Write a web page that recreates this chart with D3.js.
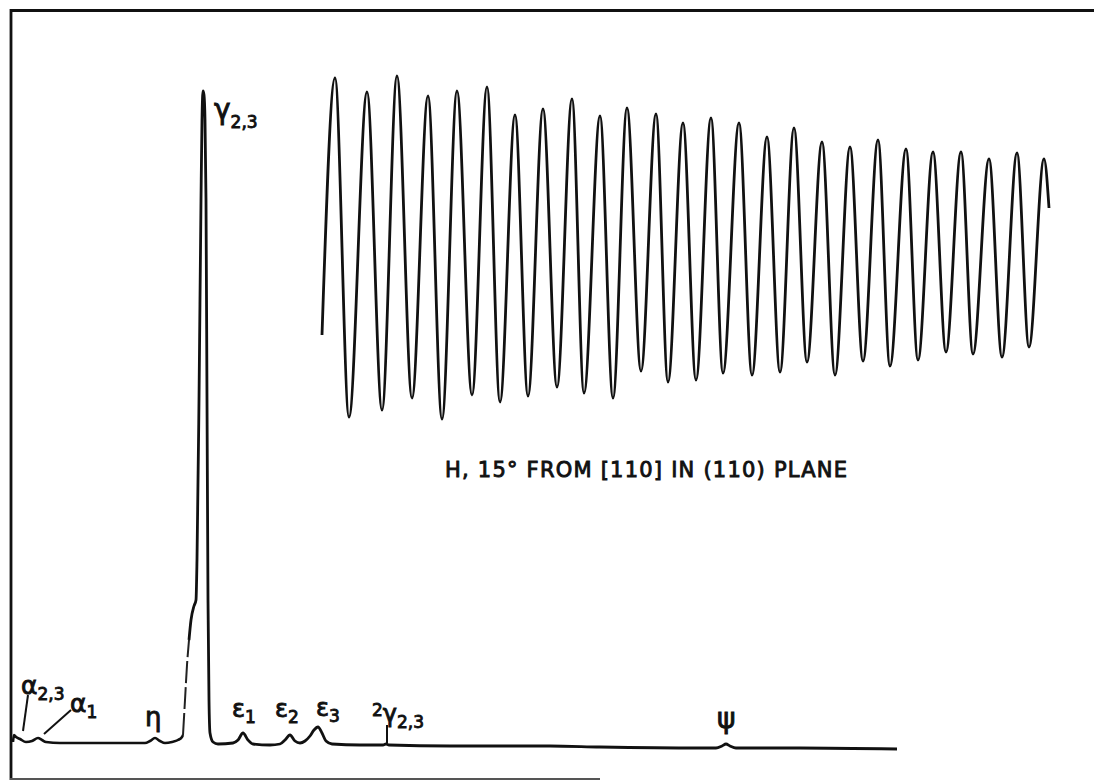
<!DOCTYPE html>
<html>
<head>
<meta charset="utf-8">
<script src="https://cdn.jsdelivr.net/npm/d3@7"></script>
<style>
  html, body { margin: 0; padding: 0; background: #fff; }
  svg { display: block; }
</style>
</head>
<body>
<svg id="chart" width="1094" height="782"></svg>
<script>
// ---- DATA (chart-paper units, mm; x = sweep position, y = recorder deflection) ----
// Main spectrum trace (solid part before the big line)
const spectrumLeft = [
  [0.5, 0], [0.75, 1.75], [1.25, 1.25], [2.25, 0.75], [3.75, 0], [5.25, 0.25],
  [6.75, 1.0], [7.75, 0.5], [8.75, 0], [12.25, -0.25], [22.25, -0.25], [33.5, -0.25],
  [34.75, 0.25], [36.0, 1.0], [37.25, 0.25], [38.5, -0.25], [40.25, 0], [41.75, 0.5],
  [42.75, 1.25], [43.0, 1.75]
];
// Dashed (faint) rising edge of the γ2,3 line
const spectrumDashed = [
  [43.0, 1.75], [43.5, 10.5], [44.0, 19.25], [44.5, 25.5]
];
// γ2,3 line and the rest of the spectrum
const spectrumRight = [
  [44.5, 25.5], [45.0, 30.5], [45.75, 34.0], [46.25, 35.5], [46.5, 45.5], [47.0, 85.5],
  [47.5, 135.5], [47.75, 155.5], [48.0, 162.75], [48.25, 161.75], [48.5, 155.5],
  [48.75, 135.5], [49.0, 85.5], [49.25, 35.5], [49.5, 10.5], [49.75, 2.25], [50.5, 0],
  [51.75, -0.5], [55.5, -0.25], [56.75, 0.5], [58.0, 2.25], [59.25, 0.5], [60.5, -0.5],
  [64.75, -0.75], [67.25, -0.5], [68.5, 0.5], [69.75, 1.75], [71.0, 0.25], [72.25, -0.25],
  [73.5, 0.25], [74.75, 1.5], [75.75, 3.0], [76.75, 3.75], [77.75, 2.25], [78.75, 0.25],
  [80.25, -0.5], [87.25, -0.75], [93.0, -0.75], [93.75, -0.5], [94.5, -0.75],
  [109.75, -1.0], [134.75, -1.0], [147.25, -1.25], [172.25, -1.5], [176.25, -1.5],
  [177.75, -1.0], [178.75, -0.5], [179.75, -1.0], [181.25, -1.5], [197.25, -1.5],
  [221.5, -1.75]
];
// Oscillation trace: start, alternating maxima/minima, end
const oscX = [77.75, 81, 84.5, 89, 92.75, 96.5, 100.25, 104.25, 107.75, 111.5, 115.25,
  119, 122.25, 126, 129.25, 133, 136.5, 140.25, 143.25, 147.25, 150.5, 154, 157.5,
  161.25, 164.25, 168, 171.25, 175, 178, 182, 185.25, 189, 192.25, 195.75, 199,
  202.75, 206, 209.75, 213, 216.75, 219.75, 223.75, 226.75, 230.5, 233.75, 237.5,
  240.5, 244.5, 247.75, 251.5, 254.5, 258.25, 259.5];
const oscY = [101.75, 166, 81.25, 162.5, 83, 166.5, 86, 161.5, 80.75, 162.75, 86.75,
  163.75, 85, 156.75, 86.5, 158.25, 88.75, 160.75, 87.25, 156.5, 86, 158.5, 92.75,
  157, 90, 154.75, 90.5, 156, 92.25, 154.75, 91.75, 151.25, 92.5, 153.5, 95,
  150, 91.75, 148.75, 95.25, 150.5, 94, 148.25, 95.5, 147.5, 97.5, 147.5,
  97, 145.75, 96.25, 147.25, 98.75, 145.75, 133.5];

// Peak labels
const labelPrefix = ["", "", "", "", "", "", "", "2", ""];
const labelMain   = ["α", "α", "η", "γ", "ε", "ε", "ε", "γ", "ψ"];
const labelSub    = ["2,3", "1", "", "2,3", "1", "2", "3", "2,3", ""];
const labelX      = [2.5, 14.75, 33.5, 50.75, 55.25, 66.0, 76.25, 90.25, 176.5];
const labelY      = [12.0, 7.5, 4.0, 155.75, 6.25, 6.25, 6.5, 6.5, 3.5];
const labelSize   = [25, 25, 26, 28, 24, 24, 24, 24, 28];
// Leader lines: [x1, y1, x2, y2]
const leaders = [
  [4.25, 11.75, 3.0, 2.75],
  [15.0, 8.0, 8.25, 2.0],
  [94.0, 4.25, 94.0, -0.25]
];
const caption = "H, 15° FROM [110] IN (110) PLANE";
const captionPos = [108.5, 66.25];

// ---- DRAWING ----
const svg = d3.select("#chart");
const x = d3.scaleLinear().domain([0, 270]).range([11, 1091]);
const y = d3.scaleLinear().domain([0, 185.5]).range([742, 0]);

// frame
const frame = svg.append("g").attr("fill", "none").attr("stroke", "#111");
frame.append("line").attr("x1", 11).attr("y1", 9).attr("x2", 11).attr("y2", 780).attr("stroke-width", 2.8);
frame.append("line").attr("x1", 10).attr("y1", 10.5).attr("x2", 1094).attr("y2", 10.5).attr("stroke-width", 2.8);
frame.append("line").attr("x1", 10).attr("y1", 779).attr("x2", 600).attr("y2", 779).attr("stroke-width", 2).attr("stroke", "#555");

const line = d3.line().x(d => x(d[0])).y(d => y(d[1])).curve(d3.curveMonotoneX);

svg.append("path").datum(spectrumLeft).attr("d", line)
  .attr("fill", "none").attr("stroke", "#111").attr("stroke-width", 2.6).attr("stroke-linejoin", "round");
svg.append("path").datum(spectrumDashed).attr("d", line)
  .attr("fill", "none").attr("stroke", "#222").attr("stroke-width", 2).attr("stroke-dasharray", "22,4");
svg.append("path").datum(spectrumRight).attr("d", line)
  .attr("fill", "none").attr("stroke", "#111").attr("stroke-width", 2.8).attr("stroke-linejoin", "round");

const osc = oscX.map((v, i) => [v, oscY[i]]);
svg.append("path").datum(osc).attr("d", line)
  .attr("fill", "none").attr("stroke", "#111").attr("stroke-width", 2.8).attr("stroke-linejoin", "round");

// leaders
svg.selectAll("line.leader").data(leaders).join("line").attr("class", "leader")
  .attr("x1", d => x(d[0])).attr("y1", d => y(d[1]))
  .attr("x2", d => x(d[2])).attr("y2", d => y(d[3]))
  .attr("stroke", "#111").attr("stroke-width", 2);

// labels
labelMain.forEach((m, i) => {
  const t = svg.append("text")
    .attr("x", x(labelX[i])).attr("y", y(labelY[i]))
    .attr("font-family", "DejaVu Sans, sans-serif")
    .attr("fill", "#111").attr("stroke", "#111").attr("stroke-width", 0.9);
  if (labelPrefix[i]) {
    t.append("tspan").attr("font-size", 17).text(labelPrefix[i]);
    t.append("tspan").attr("font-size", labelSize[i]).attr("dy", 6).text(m);
  } else {
    t.append("tspan").attr("font-size", labelSize[i]).text(m);
  }
  if (labelSub[i]) {
    t.append("tspan").attr("font-size", 17)
      .attr("dy", labelMain[i] === "γ" && !labelPrefix[i] ? 9 : 6).text(labelSub[i]);
  }
});

// caption
svg.append("text")
  .attr("x", x(captionPos[0])).attr("y", y(captionPos[1]))
  .attr("font-family", "DejaVu Sans, sans-serif").attr("font-size", 21)
  .attr("fill", "#111").attr("stroke", "#111").attr("stroke-width", 0.9)
  .attr("textLength", 402).attr("lengthAdjust", "spacing")
  .text(caption);
</script>
</body>
</html>
